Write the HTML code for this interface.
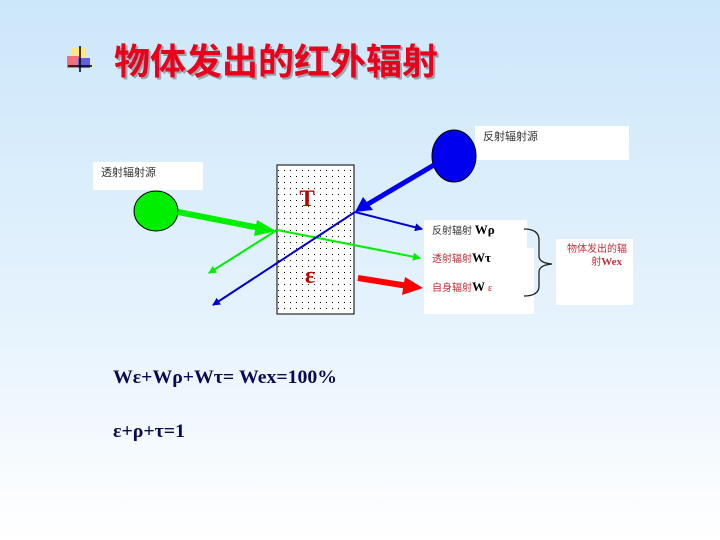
<!DOCTYPE html>
<html><head><meta charset="utf-8"><style>
html,body{margin:0;padding:0;}
body{width:720px;height:540px;overflow:hidden;background:linear-gradient(#cce7fa,#e6f3fd 60%,#ffffff);}
svg{display:block}
.cj{font-family:"Liberation Sans","Noto Sans CJK SC",sans-serif;}
.sf{font-family:"Liberation Serif","Noto Serif CJK SC",serif;}
</style></head><body>
<svg width="720" height="540" viewBox="0 0 720 540">
<defs>
<pattern id="dots" width="6" height="6" patternUnits="userSpaceOnUse"><rect width="6" height="6" fill="#fff"/><rect x="2" y="2" width="1" height="1" fill="#000"/></pattern>
<marker id="ab" markerWidth="8" markerHeight="8" refX="7" refY="4" orient="auto" markerUnits="userSpaceOnUse"><path d="M0,0 L8,4 L0,8 Z" fill="#0000cc"/></marker>
<marker id="ag" markerWidth="8" markerHeight="8" refX="7" refY="4" orient="auto" markerUnits="userSpaceOnUse"><path d="M0,0 L8,4 L0,8 Z" fill="#00ee00"/></marker>
</defs>
<!-- icon -->
<rect x="72" y="48" width="14" height="14" fill="#ffe680"/>
<rect x="67" y="56" width="12" height="12" fill="#f07080"/>
<rect x="78" y="58" width="12" height="10" fill="#6060e0"/>
<line x1="80" y1="46" x2="80" y2="72" stroke="#000" stroke-width="1.5"/>
<line x1="68" y1="66" x2="92" y2="66" stroke="#000" stroke-width="1.5"/>
<!-- title -->
<text x="114" y="74" class="cj" font-size="36" font-weight="bold" fill="#777" opacity="0.6" transform="translate(2,2)">物体发出的红外辐射</text>
<text x="114" y="74" class="cj" font-size="36" font-weight="bold" fill="#e8001c">物体发出的红外辐射</text>

<!-- label boxes -->
<rect x="93" y="162" width="110" height="28" fill="#fff"/>
<text x="101" y="176" class="cj" font-size="11" fill="#333">透射辐射源</text>
<rect x="475" y="126" width="154" height="34" fill="#fff"/>
<text x="483" y="140" class="cj" font-size="11" fill="#333">反射辐射源</text>

<!-- object -->
<rect x="277" y="165" width="77" height="149" fill="url(#dots)" stroke="#000" stroke-width="1"/>
<text x="307" y="206" class="sf" font-size="23" font-weight="bold" fill="#c00000" text-anchor="middle">T</text>
<text x="310" y="283" class="sf" font-size="24" font-weight="bold" fill="#c00000" text-anchor="middle">ε</text>

<!-- green source -->
<ellipse cx="156" cy="211" rx="22" ry="20" fill="#00ee00" stroke="#000" stroke-width="1"/>
<line x1="178" y1="212" x2="260" y2="228" stroke="#00ee00" stroke-width="6"/>
<path d="M257,220 L276,231 L254,236 Z" fill="#00ee00"/>
<line x1="277" y1="230" x2="420" y2="258" stroke="#00ee00" stroke-width="2" marker-end="url(#ag)"/>
<line x1="277" y1="230" x2="209" y2="273" stroke="#00ee00" stroke-width="2" marker-end="url(#ag)"/>

<!-- blue source -->
<ellipse cx="454" cy="156" rx="22" ry="26" fill="#0000ee" stroke="#000" stroke-width="1"/>
<line x1="434" y1="165" x2="368" y2="204" stroke="#0000ee" stroke-width="5"/>
<path d="M363,197 L355,212 L373,210 Z" fill="#0000ee"/>
<line x1="355" y1="212" x2="213" y2="305" stroke="#0000cc" stroke-width="2" marker-end="url(#ab)"/>
<line x1="355" y1="212" x2="422" y2="229" stroke="#0000cc" stroke-width="2" marker-end="url(#ab)"/>

<!-- red arrow -->
<line x1="358" y1="278" x2="408" y2="286" stroke="#ff0000" stroke-width="6"/>
<path d="M405,277 L423,288 L402,295 Z" fill="#ff0000"/>

<!-- result boxes -->
<rect x="424" y="220" width="103" height="28" fill="#fff"/>
<rect x="424" y="248" width="110" height="66" fill="#fff"/>
<text x="432" y="234" class="cj" font-size="10" fill="#333">反射辐射 <tspan class="sf" font-size="13" font-weight="bold" fill="#000">Wρ</tspan></text>
<text x="432" y="262" class="cj" font-size="10" fill="#c0303a">透射辐射<tspan class="sf" font-size="13" font-weight="bold" fill="#000">Wτ</tspan></text>
<text x="432" y="291" class="cj" font-size="10" fill="#c0303a">自身辐射<tspan class="sf" font-size="13" font-weight="bold" fill="#000">W </tspan><tspan class="sf" font-size="10" fill="#c00000">ε</tspan></text>

<!-- brace -->
<path d="M524,229 Q539,229 539,240 L539,256 Q539,263 552,264 Q539,265 539,272 L539,286 Q539,296 524,296" fill="none" stroke="#222" stroke-width="1.3"/>

<rect x="556" y="239" width="77" height="66" fill="#fff"/>
<text x="627" y="252" class="cj" font-size="10" fill="#c0303a" text-anchor="end">物体发出的辐</text>
<text x="622" y="265" class="cj" font-size="10" fill="#c0303a" text-anchor="end">射<tspan class="sf" font-size="11" font-weight="bold">Wex</tspan></text>

<!-- formulas -->
<text x="113" y="383" class="sf" font-size="19" font-weight="bold" fill="#0a0a50" textLength="224" lengthAdjust="spacingAndGlyphs">Wε+Wρ+Wτ= Wex=100%</text>
<text x="113" y="437" class="sf" font-size="19" font-weight="bold" fill="#0a0a50" textLength="72" lengthAdjust="spacingAndGlyphs">ε+ρ+τ=1</text>
</svg>
</body></html>
